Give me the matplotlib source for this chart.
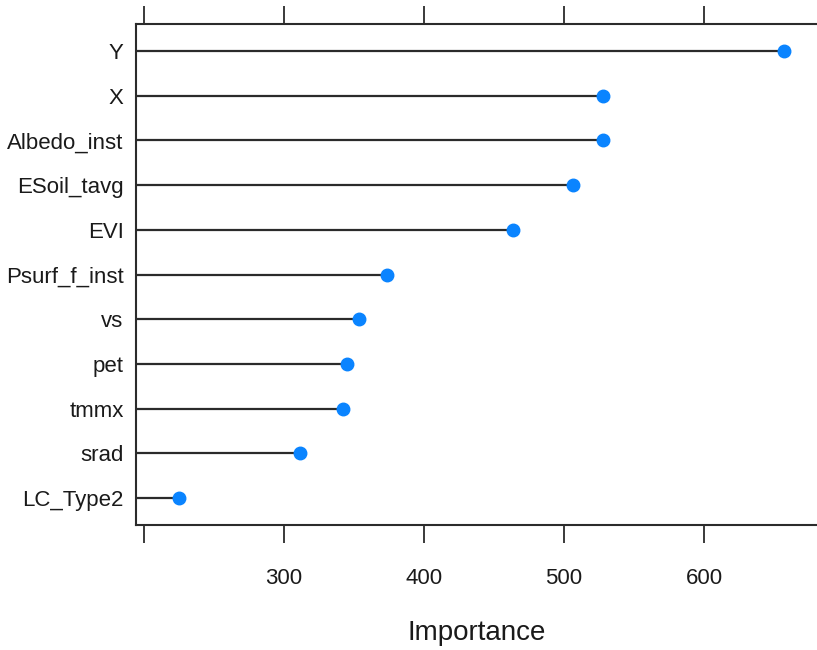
import matplotlib
matplotlib.use("Agg")
import matplotlib.pyplot as plt

# ================= DATA =================

features = ["Y", "X", "Albedo_inst", "ESoil_tavg", "EVI", "Psurf_f_inst",
            "vs", "pet", "tmmx", "srad", "LC_Type2"]
importance = [657.2, 528.2, 528.2, 506.8, 463.7, 373.6,
              353.8, 345.0, 342.4, 311.7, 225.3]
xticks = [200, 300, 400, 500, 600]
xticklabels = ["", "300", "400", "500", "600"]

# ================= STYLE =================

plt.rcParams["font.family"] = ["Liberation Sans", "DejaVu Sans"]
LINE_COL = "#2b2b2b"
TXT_COL = "#1a1a1a"
DOT_COL = "#0a84ff"

fig = plt.figure(figsize=(8.17, 6.5), dpi=100)
ax = fig.add_axes([0.1665, 0.1923, 0.8335, 0.7707])

n = len(features)
ypos = [n - i for i in range(n)]
x0 = 194.6

ax.hlines(ypos, x0, importance, color=LINE_COL, lw=1.6)
ax.plot(importance, ypos, "o", color=DOT_COL, ms=9, mec=DOT_COL, zorder=3, clip_on=False)

ax.set_xlim(x0, 680.7)
ax.set_ylim(0.4, n + 0.6)

ax.set_yticks(ypos)
ax.set_yticklabels(features, fontsize=16, color=TXT_COL)
ax.tick_params(axis="y", length=0, pad=9)

ax.set_xticks(xticks)
ax.set_xticklabels(xticklabels, fontsize=16, color=TXT_COL)
ax.tick_params(axis="x", direction="out", length=13, width=1.3, color=LINE_COL,
               top=True, labeltop=False, pad=18)

for side in ["left", "top", "bottom"]:
    ax.spines[side].set_color(LINE_COL)
    ax.spines[side].set_linewidth(1.5)
ax.spines["right"].set_visible(False)

ax.set_xlabel("Importance", fontsize=20, color=TXT_COL, labelpad=22)

fig.savefig("out.png", dpi=100)
plt.close(fig)
